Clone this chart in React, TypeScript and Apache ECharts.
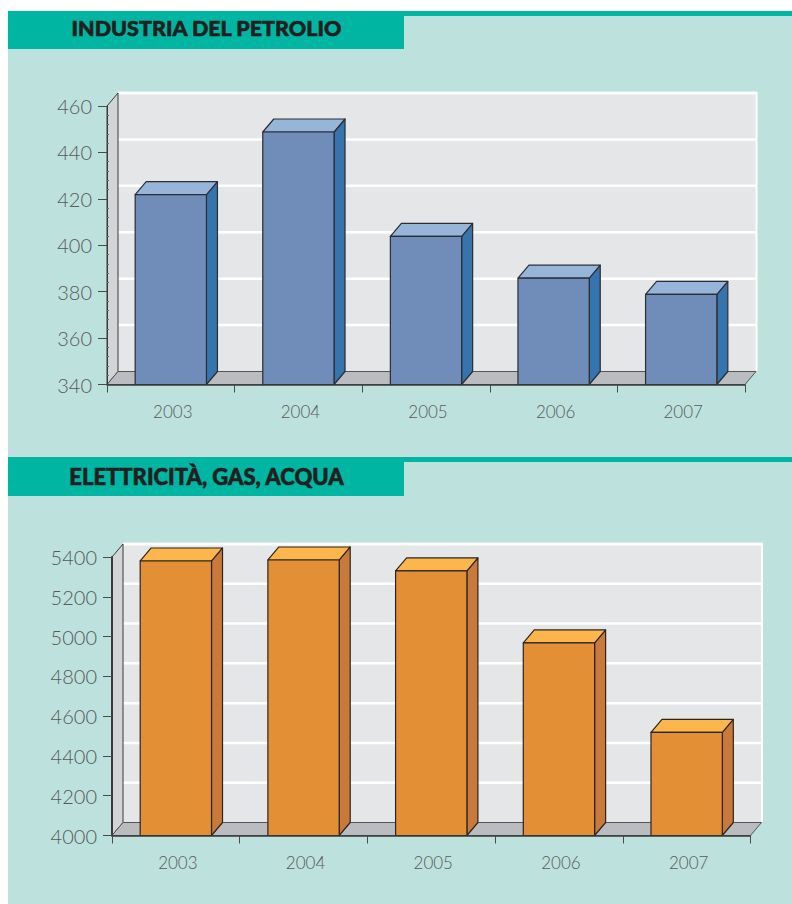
import React, { useEffect, useRef } from "react";
import * as echarts from "echarts";

const years = ["2003", "2004", "2005", "2006", "2007"];
const petrolio = [421.8, 448.8, 403.8, 385.8, 378.8];
const utilities = [5380, 5385, 5330, 4968, 4518];
const titleTop = "INDUSTRIA DEL PETROLIO";
const titleBottom = "ELETTRICITÀ, GAS, ACQUA";

const DX = 11;
const DY = 13;
const labelFont = "Lato";

function wallItem(ticks: number[], minV: number) {
  return (params: any, api: any) => {
    const cs = params.coordSys;
    const x0 = cs.x, y0 = cs.y, w = cs.width, h = cs.height;
    const bottom = y0 + h;
    const right = x0 + w;
    const children: any[] = [];
    children.push({
      type: "polygon", silent: true,
      shape: { points: [[x0 + DX, y0 - DY], [right + DX + 0.5, y0 - DY], [right + DX + 0.5, bottom - DY], [x0 + DX, bottom - DY]] },
      style: { fill: "#e5e6e8", stroke: "none" },
    });
    children.push({ type: "line", silent: true, shape: { x1: x0 + DX, y1: y0 - DY, x2: right + DX + 1.5, y2: y0 - DY }, style: { stroke: "#ffffff", lineWidth: 2.5 } });
    children.push({ type: "line", silent: true, shape: { x1: right + DX + 0.5, y1: y0 - DY, x2: right + DX + 0.5, y2: bottom - DY }, style: { stroke: "#ffffff", lineWidth: 2 } });
    ticks.forEach((t) => {
      if (t === minV) return;
      const p = api.coord([0, t]);
      children.push({ type: "line", silent: true, shape: { x1: x0 + DX, y1: p[1] - DY, x2: right + DX, y2: p[1] - DY }, style: { stroke: "#ffffff", lineWidth: 2.5 } });
    });
    children.push({
      type: "polygon", silent: true,
      shape: { points: [[x0, y0], [x0 + DX, y0 - DY], [x0 + DX, bottom - DY], [x0, bottom]] },
      style: { fill: "#d3d4d6", stroke: "#3a3a3a", lineWidth: 1 },
    });
    children.push({
      type: "polygon", silent: true,
      shape: { points: [[x0, bottom], [x0 + DX, bottom - DY], [right + DX, bottom - DY], [right, bottom]] },
      style: { fill: "#bbbcbf", stroke: "#555555", lineWidth: 1 },
    });
    return { type: "group", children };
  };
}

function boxItem(front: string, top: string, side: string, stroke: string) {
  return (params: any, api: any) => {
    const cat = api.value(0);
    const val = api.value(1);
    const p = api.coord([cat, val]);
    const base = api.coord([cat, api.value(2)]);
    const bw = api.size([1, 0])[0] * 0.5585;
    const l = p[0] - bw / 2;
    const r = l + bw;
    const t = p[1];
    const b = base[1];
    const common = { stroke, lineWidth: 1.2, lineJoin: "round" };
    return {
      type: "group",
      children: [
        { type: "polygon", shape: { points: [[r, t], [r + DX, t - DY], [r + DX, b - DY], [r, b]] }, style: { fill: side, ...common } },
        { type: "polygon", shape: { points: [[l, t], [l + DX, t - DY], [r + DX, t - DY], [r, t]] }, style: { fill: top, ...common } },
        { type: "rect", shape: { x: l, y: t, width: r - l, height: b - t }, style: { fill: front, ...common } },
      ],
    };
  };
}

const axisX = (gridIndex: number) => ({
  type: "category" as const,
  gridIndex,
  data: years,
  boundaryGap: true,
  axisLine: { show: true, lineStyle: { color: "#3a3a3a", width: 1.5 } },
  axisTick: { show: true, length: 8, alignWithLabel: false, lineStyle: { color: "#4a4a4a", width: 1 } },
  axisLabel: { color: "#58595b", fontFamily: labelFont, fontSize: 17, fontWeight: 300, margin: 18, padding: [0, 0, 0, 4] },
  splitLine: { show: false },
  z: 5,
});

const axisY = (gridIndex: number, min: number, max: number, interval: number, minor: boolean) => ({
  type: "value" as const,
  gridIndex,
  min,
  max,
  interval,
  axisLine: { show: true, lineStyle: { color: "#3a3a3a", width: minor ? 1 : 2 } },
  axisTick: { show: true, length: 9, lineStyle: { color: "#4a4a4a", width: 1 } },
  minorTick: { show: minor, splitNumber: 5, length: -2, lineStyle: { color: "#6a6a6a", width: 1 } },
  axisLabel: { color: "#58595b", fontFamily: labelFont, fontSize: 20, fontWeight: 300, margin: 15, padding: [0, 0, 2, 0], formatter: (v: number) => String(v) },
  splitLine: { show: false },
  z: 5,
});

const range = (min: number, max: number, step: number) => {
  const out: number[] = [];
  for (let v = min; v <= max; v += step) out.push(v);
  return out;
};

export default function App() {
  const ref = useRef<HTMLDivElement>(null);
  useEffect(() => {
    const chart = echarts.init(ref.current!, null, { renderer: "svg" });
    const header = (y: number, h: number, hh: number, text: string, size: number, textY: number) => [
      { type: "rect", z: 0, shape: { x: 8, y: y + 5, width: 784, height: h - 5 }, style: { fill: "#bde1dc" } },
      { type: "rect", z: 0, shape: { x: 8, y, width: 784, height: 5 }, style: { fill: "#00b5a2" } },
      { type: "rect", z: 0, shape: { x: 8, y, width: 396, height: hh }, style: { fill: "#00b5a2" } },
      { type: "text", z: 1, x: 206.5, y: textY, style: { text, fill: "#231f20", stroke: "#231f20", lineWidth: 0.6, fontFamily: "Lato", fontWeight: 900, fontSize: size, align: "center", verticalAlign: "middle" } },
    ];
    chart.setOption({
      animation: false,
      backgroundColor: "#ffffff",
      graphic: { elements: [...header(11, 446, 38, titleTop, 21.5, 28), ...header(457, 447, 39, titleBottom, 22, 476)] },
      grid: [
        { left: 107, top: 106, width: 638, height: 278.5, containLabel: false },
        { left: 112, top: 557, width: 638.5, height: 278.5, containLabel: false },
      ],
      xAxis: [axisX(0), axisX(1)],
      yAxis: [axisY(0, 340, 460, 20, true), axisY(1, 4000, 5400, 200, false)],
      series: [
        { type: "custom", xAxisIndex: 0, yAxisIndex: 0, z: 1, silent: true, data: [[0, 340]], clip: false, renderItem: wallItem(range(340, 460, 20), 340) },
        { type: "custom", xAxisIndex: 1, yAxisIndex: 1, z: 1, silent: true, data: [[0, 4000]], clip: false, renderItem: wallItem(range(4000, 5400, 200), 4000) },
        { type: "custom", xAxisIndex: 0, yAxisIndex: 0, z: 3, clip: false, data: petrolio.map((v, i) => [i, v, 340]), encode: { x: 0, y: 1 }, renderItem: boxItem("#6f8db8", "#97b5d9", "#3674ad", "#2b2d33") },
        { type: "custom", xAxisIndex: 1, yAxisIndex: 1, z: 3, clip: false, data: utilities.map((v, i) => [i, v, 4000]), encode: { x: 0, y: 1 }, renderItem: boxItem("#e38f36", "#fdb64b", "#c97a3a", "#2b2520") },
      ],
    });
    return () => chart.dispose();
  }, []);
  return <div ref={ref} style={{ position: "absolute", left: 0, top: 0, width: 792, height: 904 }} />;
}
